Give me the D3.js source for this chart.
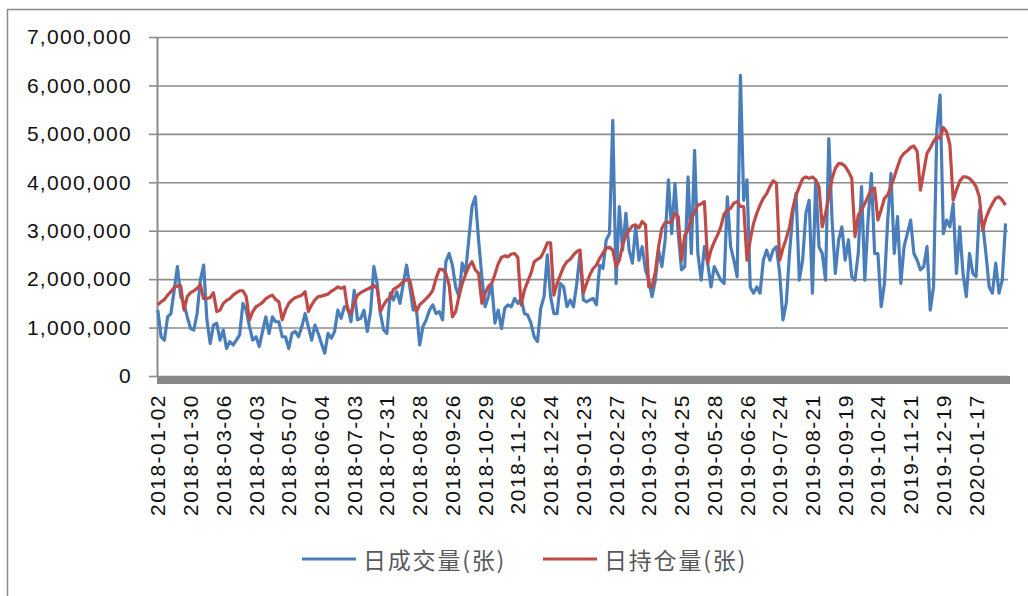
<!DOCTYPE html>
<html>
<head>
<meta charset="utf-8">
<script src="https://cdn.jsdelivr.net/npm/d3@7"></script>
<style>
  body { margin: 0; background: #fff; }
  svg { display: block; }
</style>
</head>
<body>
<svg id="chart"></svg>
<script>
// category axis: one label every 20 trading days
const tickLabels = [
  "2018-01-02", "2018-01-30", "2018-03-06", "2018-04-03", "2018-05-07", "2018-06-04",
  "2018-07-03", "2018-07-31", "2018-08-28", "2018-09-26", "2018-10-29", "2018-11-26",
  "2018-12-24", "2019-01-23", "2019-02-27", "2019-03-27", "2019-04-25", "2019-05-28",
  "2019-06-26", "2019-07-24", "2019-08-21", "2019-09-19", "2019-10-24", "2019-11-21",
  "2019-12-19", "2020-01-17"
];
const nDays = 520;       // trading days on the axis
const labelStep = 20;    // days between labels
const sampleStep = 2;    // values below are read every 2 trading days

// 日成交量, in 10,000 contracts
const volume = [
  136, 81, 74, 122, 129, 177, 226, 164, 150, 122,
  98, 95, 129, 198, 229, 116, 67, 105, 109, 74,
  95, 57, 71, 64, 74, 85, 150, 136, 102, 74,
  81, 61, 92, 122, 88, 122, 112, 112, 81, 81,
  57, 88, 92, 81, 102, 129, 102, 74, 105, 88,
  67, 47, 88, 78, 92, 136, 119, 143, 143, 112,
  177, 116, 119, 136, 92, 133, 226, 191, 129, 95,
  88, 171, 157, 174, 150, 191, 229, 184, 136, 140,
  64, 102, 116, 136, 147, 129, 133, 116, 236, 253,
  229, 184, 164, 233, 212, 281, 350, 370, 281, 205,
  143, 164, 191, 109, 136, 98, 140, 147, 143, 160,
  150, 160, 129, 126, 109, 81, 71, 140, 164, 250,
  164, 129, 129, 191, 184, 143, 157, 143, 191, 253,
  157, 153, 157, 160, 147, 229, 222, 281, 294, 528,
  191, 350, 260, 336, 260, 233, 308, 239, 267, 219,
  198, 164, 198, 260, 226, 281, 405, 294, 398, 294,
  219, 226, 411, 253, 466, 253, 198, 267, 233, 184,
  226, 212, 198, 191, 370, 267, 239, 205, 621, 363,
  405, 184, 171, 184, 171, 239, 260, 239, 260, 267,
  212, 116, 150, 253, 336, 377, 198, 239, 336, 363,
  171, 405, 267, 253, 198, 490, 322, 212, 281, 308,
  239, 281, 205, 198, 253, 391, 198, 322, 418, 253,
  253, 143, 191, 322, 418, 253, 329, 191, 267, 294,
  322, 253, 239, 219, 226, 267, 136, 184, 508, 580,
  294, 322, 308, 356, 212, 308, 212, 164, 253, 212,
  205, 343, 315, 253, 184, 171, 233, 171, 198, 315
];

// 日持仓量, in 10,000 contracts
const openInterest = [
  147, 153, 158, 167, 174, 183, 186, 186, 136, 164,
  172, 176, 181, 188, 160, 160, 162, 172, 133, 136,
  150, 156, 160, 167, 172, 176, 176, 164, 116, 133,
  143, 147, 152, 160, 164, 167, 158, 153, 116, 136,
  150, 157, 162, 164, 167, 174, 133, 147, 157, 164,
  165, 167, 169, 175, 179, 184, 181, 184, 136, 129,
  150, 167, 172, 176, 179, 183, 187, 181, 133, 147,
  157, 162, 179, 183, 188, 195, 199, 198, 164, 133,
  147, 153, 160, 167, 177, 201, 220, 220, 212, 188,
  122, 133, 164, 191, 209, 226, 236, 219, 212, 150,
  170, 185, 191, 210, 232, 245, 248, 246, 252, 253,
  245, 147, 177, 195, 212, 236, 241, 245, 258, 275,
  275, 167, 191, 209, 226, 236, 241, 250, 257, 260,
  171, 191, 209, 222, 229, 243, 254, 264, 266, 260,
  226, 239, 270, 291, 301, 310, 312, 306, 319, 312,
  184, 184, 215, 267, 305, 317, 317, 319, 336, 329,
  239, 291, 301, 325, 339, 353, 355, 360, 233, 260,
  277, 291, 308, 334, 343, 346, 357, 360, 350, 350,
  239, 281, 315, 336, 353, 367, 376, 391, 403, 398,
  239, 264, 284, 308, 346, 373, 391, 407, 411, 408,
  411, 405, 391, 308, 336, 370, 408, 429, 439, 438,
  433, 422, 409, 288, 332, 343, 356, 371, 384, 388,
  322, 343, 367, 374, 391, 411, 432, 451, 460, 465,
  472, 475, 464, 384, 422, 460, 471, 484, 494, 491,
  513, 504, 477, 363, 384, 402, 411, 411, 408, 401,
  391, 370, 301, 326, 343, 356, 367, 370, 363, 353
];

const seriesNames = ["日成交量(张)", "日持仓量(张)"];
const seriesColors = ["#4a7ebb", "#be4b48"];

// layout
const width = 1028;
const height = 596;
const plot = { left: 157, right: 1008, top: 37, bottom: 376 };
const latinFont = "'Liberation Sans', Arial, sans-serif";
const cjkFont = "'Noto Sans CJK SC', 'Noto Sans', sans-serif";

const svg = d3.select('svg#chart').attr('width', width).attr('height', height);

// chart area border (only top and left edges fall inside the picture)
svg.append('path')
    .attr('d', `M7.5,${height} V9.5 H${width}`)
    .attr('fill', 'none')
    .attr('stroke', '#8a8a8a')
    .attr('stroke-width', 1.5);

const x = d3.scaleBand().domain(d3.range(nDays)).range([plot.left, plot.right]);
const xc = d => x(d) + x.bandwidth() / 2;
const y = d3.scaleLinear().domain([0, 700]).range([plot.bottom, plot.top]);

// horizontal gridlines
svg.append('g')
    .attr('transform', `translate(${plot.left},0)`)
    .call(d3.axisLeft(y).ticks(7).tickSize(-(plot.right - plot.left)).tickFormat(''))
    .call(g => g.select('.domain').remove())
    .call(g => g.selectAll('line').attr('stroke', '#8c8c8c').attr('stroke-width', 1.6));

// y axis with labels
const yAxis = svg.append('g')
    .attr('transform', `translate(${plot.left},0)`)
    .call(d3.axisLeft(y).ticks(7).tickSize(8).tickSizeOuter(0).tickPadding(17)
        .tickFormat(d => d3.format(',')(d * 10000)));
yAxis.select('.domain').attr('stroke', '#8c8c8c').attr('stroke-width', 2);
yAxis.selectAll('line').attr('stroke', '#8c8c8c').attr('stroke-width', 1.6);
yAxis.selectAll('text')
    .attr('font-family', latinFont)
    .attr('font-size', 21)
    .attr('letter-spacing', 1.3)
    .attr('fill', '#111');

// thick category axis line
svg.append('rect')
    .attr('x', plot.left)
    .attr('y', plot.bottom)
    .attr('width', plot.right - plot.left + 2)
    .attr('height', 8)
    .attr('fill', '#888');

// rotated category labels
svg.append('g')
    .selectAll('text')
    .data(tickLabels)
    .join('text')
    .attr('transform', (d, i) => `translate(${xc(i * labelStep)},394) rotate(-90)`)
    .attr('text-anchor', 'end')
    .attr('dy', '0.36em')
    .attr('font-family', latinFont)
    .attr('font-size', 21)
    .attr('letter-spacing', 1.45)
    .attr('fill', '#111')
    .text(d => d);

// the two lines, volume under open interest
const line = d3.line()
    .x((d, i) => xc(i * sampleStep))
    .y(d => y(d));

[volume, openInterest].forEach((values, k) => {
  svg.append('path')
      .datum(values)
      .attr('d', line)
      .attr('fill', 'none')
      .attr('stroke', seriesColors[k])
      .attr('stroke-width', 3.2)
      .attr('stroke-linejoin', 'round');
});

// legend
const legendX = [302, 543];
const legend = svg.append('g')
    .selectAll('g')
    .data(seriesNames)
    .join('g')
    .attr('transform', (d, i) => `translate(${legendX[i]},559)`);

legend.append('line')
    .attr('x1', 0).attr('x2', 54)
    .attr('stroke', (d, i) => seriesColors[i])
    .attr('stroke-width', 3);

legend.append('text')
    .attr('x', 61)
    .attr('dominant-baseline', 'central')
    .attr('font-family', cjkFont)
    .attr('font-size', 23)
    .attr('letter-spacing', 1.8)
    .attr('fill', '#595959')
    .text(d => d);
</script>
</body>
</html>
